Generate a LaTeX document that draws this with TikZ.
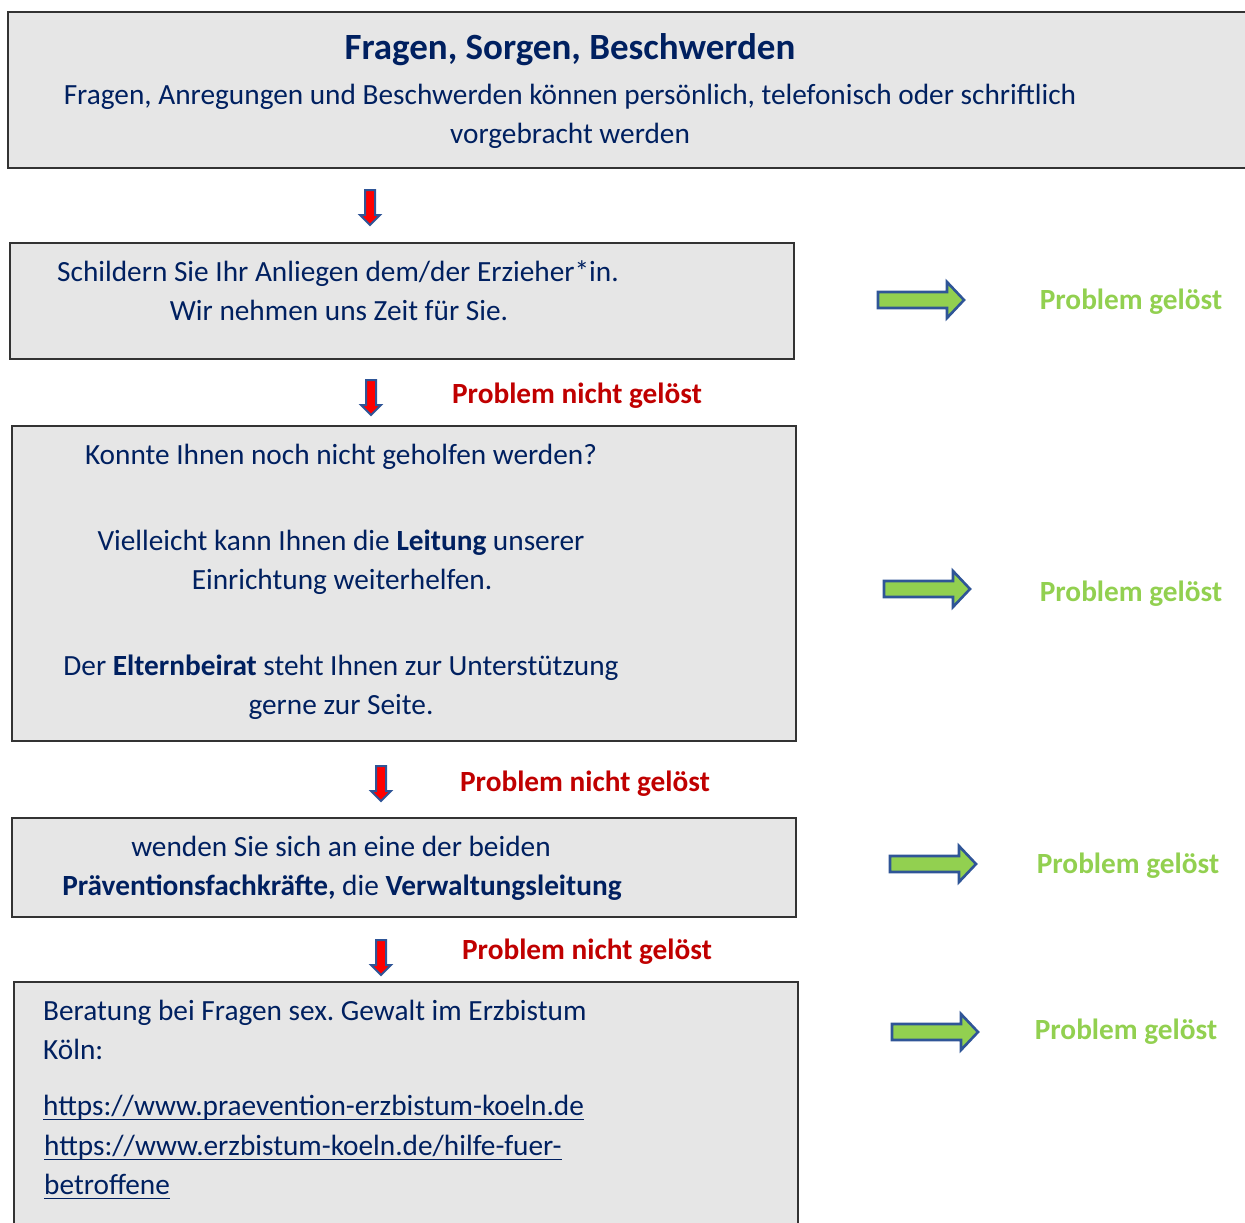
\documentclass[tikz,border=0pt]{standalone}
\usepackage{fontspec}
\setmainfont{Carlito}
\frenchspacing
\definecolor{boxgray}{HTML}{E6E6E6}
\definecolor{boxline}{HTML}{333333}
\definecolor{navy}{HTML}{002060}
\definecolor{darkred}{HTML}{C00000}
\definecolor{lgreen}{HTML}{92D050}
\definecolor{arrblue}{HTML}{2F5597}
\definecolor{arrred}{HTML}{FF0000}
\tikzset{
  box/.style={draw=boxline, line width=1.3pt, fill=boxgray},
  txt/.style={inner sep=0pt, anchor=base, text=navy, font=\fontsize{29.3}{39}\selectfont},
  ttl/.style={inner sep=0pt, anchor=base, text=navy, font=\fontsize{37}{39}\selectfont\bfseries},
  notsolved/.style={inner sep=0pt, anchor=base, text=darkred, font=\fontsize{29.3}{39}\selectfont\bfseries},
  solved/.style={inner sep=0pt, anchor=base, text=lgreen, font=\fontsize{29.3}{39}\selectfont\bfseries},
  downarr/.style={draw=arrblue, line width=2pt, fill=arrred, line join=miter},
  rightarr/.style={draw=arrblue, line width=2.6pt, fill=lgreen, line join=miter},
  uline/.style={draw=navy, line width=1.8pt},
}
\newcommand{\downarrowat}[1]{%
  \draw[downarr, shift={#1}] (-5,0) -- (5,0) -- (5,25) -- (10,25) -- (0,35) -- (-10,25) -- (-5,25) -- cycle;}
\newcommand{\rightarrowat}[1]{%
  \draw[rightarr, shift={#1}] (0,-8) -- (69,-8) -- (69,-18) -- (86,0) -- (69,18) -- (69,8) -- (0,8) -- cycle;}
\begin{document}
\begin{tikzpicture}[x=1pt,y=-1pt]
\useasboundingbox (0,0) rectangle (1245,1223);
% boxes
\draw[box] (8,12) rectangle (1260,168);
\draw[box] (10,243) rectangle (794,359);
\draw[box] (12,426) rectangle (796,741);
\draw[box] (12,818) rectangle (796,917);
\draw[box] (14,982) rectangle (798,1240);
% top box text
\node[ttl] (title) at (570,59.5) {Fragen, Sorgen, Beschwerden};
\node[txt] (t1) at (570,104.5) {Fragen, Anregungen und Beschwerden können persönlich, telefonisch oder schriftlich};
\node[txt] (t2) at (570,143.5) {vorgebracht werden};
% box 2
\node[txt] (b2a) at (338,281.5) {Schildern Sie Ihr Anliegen dem/der Erzieher*in.};
\node[txt] (b2b) at (339,320.5) {Wir nehmen uns Zeit für Sie.};
% box 3
\node[txt] (b3a) at (341,464.5) {Konnte Ihnen noch nicht geholfen werden?};
\node[txt] (b3b) at (341,550.5) {Vielleicht kann Ihnen die \textbf{Leitung} unserer};
\node[txt] (b3c) at (342,589.5) {Einrichtung weiterhelfen.};
\node[txt] (b3d) at (341,675.5) {Der \textbf{Elternbeirat} steht Ihnen zur Unterstützung};
\node[txt] (b3e) at (341,714.5) {gerne zur Seite.};
% box 4
\node[txt] (b4a) at (341,856.5) {wenden Sie sich an eine der beiden};
\node[txt] (b4b) at (342,895.5) {\textbf{Präventionsfachkräfte,} die \textbf{Verwaltungsleitung}};
% box 5
\node[txt, anchor=base west] (b5a) at (43,1020.5) {Beratung bei Fragen sex. Gewalt im Erzbistum};
\node[txt, anchor=base west] (b5b) at (43,1059.5) {Köln:};
\node[txt, anchor=base west] (b5c) at (43,1115.5) {https://www.praevention-erzbistum-koeln.de};
\node[txt, anchor=base west] (b5d) at (44,1155.5) {https://www.erzbistum-koeln.de/hilfe-fuer-};
\node[txt, anchor=base west] (b5e) at (44,1194.5) {betroffene};
\draw[uline] ([yshift=-4pt]b5c.base west) -- ([yshift=-4pt]b5c.base east);
\draw[uline] ([yshift=-4pt]b5d.base west) -- ([yshift=-4pt]b5d.base east);
\draw[uline] ([yshift=-4pt]b5e.base west) -- ([yshift=-4pt]b5e.base east);
% down arrows
\downarrowat{(370,190)}
\downarrowat{(371,380)}
\downarrowat{(381,766)}
\downarrowat{(381,940)}
% not solved labels
\node[notsolved] (n1) at (577,403.5) {Problem nicht gelöst};
\node[notsolved] (n2) at (585,791.5) {Problem nicht gelöst};
\node[notsolved] (n3) at (587,959.5) {Problem nicht gelöst};
% right arrows
\rightarrowat{(878,300)}
\rightarrowat{(884,589)}
\rightarrowat{(890,864)}
\rightarrowat{(892,1032)}
% solved labels
\node[solved] (s1) at (1131,309.5) {Problem gelöst};
\node[solved] (s2) at (1131,601.5) {Problem gelöst};
\node[solved] (s3) at (1128,873.5) {Problem gelöst};
\node[solved] (s4) at (1126,1039.5) {Problem gelöst};
\end{tikzpicture}
\end{document}
